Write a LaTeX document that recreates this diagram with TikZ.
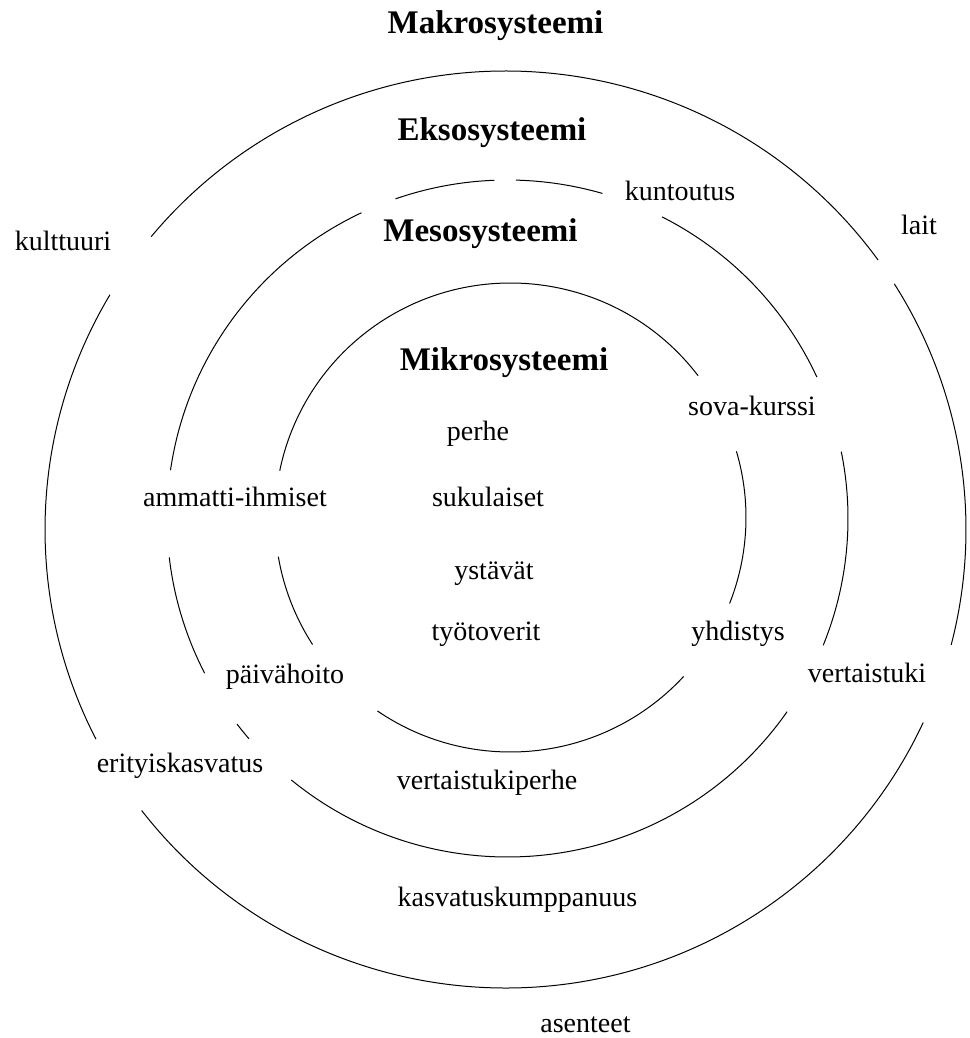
\documentclass[tikz,border=0pt]{standalone}
\usepackage{fontspec}
\setmainfont{Liberation Serif}

\begin{document}
\begin{tikzpicture}[x=1pt,y=1pt,
  ring/.style={line width=1pt},
  lbl/.style={anchor=base,inner sep=0pt,font=\fontsize{28}{34}\selectfont},
  ttl/.style={anchor=base,inner sep=0pt,font=\fontsize{33}{40}\selectfont\bfseries}]
\useasboundingbox (0,0) rectangle (969,-1038);

% outer ring
\foreach \a/\b in {36/140.3,149.2/207.2,217.8/335.1,-14.6/32.4}
  \draw[ring] (505.5,-529.5) ++(\a:460.5 and 458.5) arc[start angle=\a,end angle=\b,x radius=460.5,y radius=458.5];
% middle ring
\foreach \a/\b in {73.8/88.6,92.2/109.2,115.4/171.8,186.6/207.2,217.4/220.6,230.6/325.2,-22/11.4,24.7/63}
  \draw[ring] (507.5,-518.5) ++(\a:340.5 and 338.5) arc[start angle=\a,end angle=\b,x radius=340.5,y radius=338.5];
% inner ring
\foreach \a/\b in {189.6/212.8,235.6/317.3,-21.5/16.4,37.2/168.5}
  \draw[ring] (510.5,-517.5) ++(\a:235.5 and 234.5) arc[start angle=\a,end angle=\b,x radius=235.5,y radius=234.5];

\node[ttl] (makro) at (495.5,-33.3) {Makrosysteemi};
\node[ttl] (ekso) at (492,-140) {Eksosysteemi};
\node[ttl] (meso) at (480.5,-241.7) {Mesosysteemi};
\node[ttl] (mikro) at (504,-370.7) {Mikrosysteemi};

\node[lbl] (kult) at (63,-250.7) {kulttuuri};
\node[lbl] (lait) at (919,-234.3) {lait};
\node[lbl] (kunt) at (680,-200) {kuntoutus};
\node[lbl] (sova) at (752,-415) {sova-kurssi};
\node[lbl] (perhe) at (478,-440) {perhe};
\node[lbl] (ammatti) at (235,-506) {ammatti-ihmiset};
\node[lbl] (suku) at (488,-506.7) {sukulaiset};
\node[lbl] (ystavat) at (494,-579.3) {ystävät};
\node[lbl] (tyo) at (486,-640) {työtoverit};
\node[lbl] (yhd) at (738,-640) {yhdistys};
\node[lbl] (paiva) at (285,-683.3) {päivähoito};
\node[lbl] (vtuki) at (867,-682.7) {vertaistuki};
\node[lbl] (erity) at (180,-772.7) {erityiskasvatus};
\node[lbl] (vperhe) at (487,-789.3) {vertaistukiperhe};
\node[lbl] (kasv) at (517.5,-906) {kasvatuskumppanuus};
\node[lbl] (asent) at (585.5,-1032) {asenteet};
\end{tikzpicture}
\end{document}
